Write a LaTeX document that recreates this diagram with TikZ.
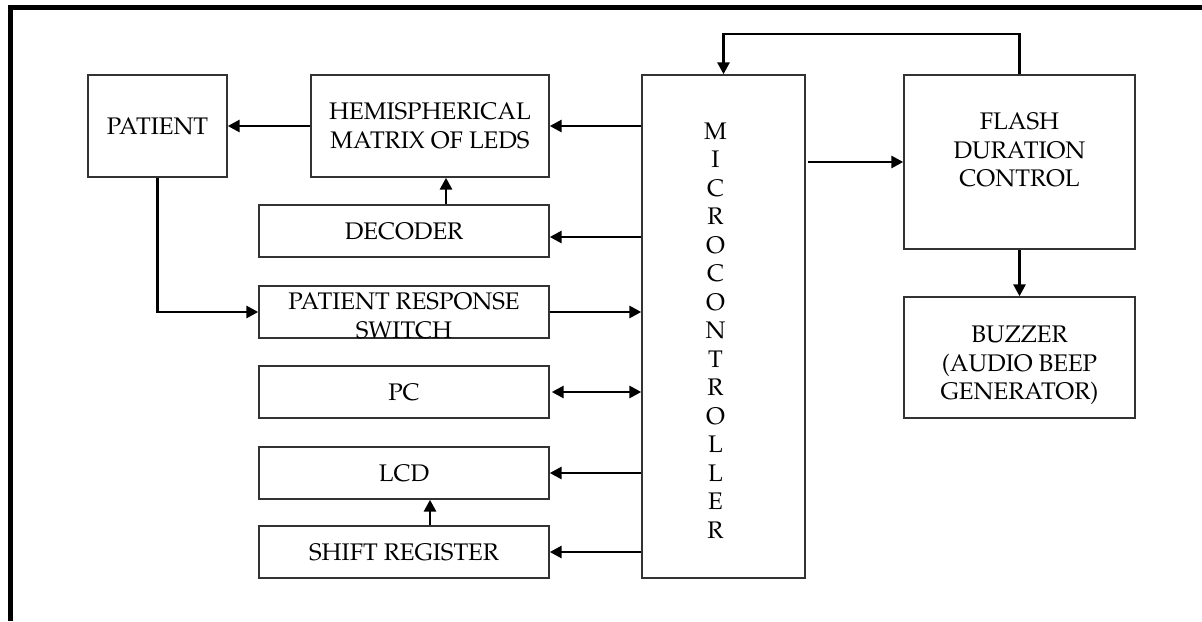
\documentclass[tikz,border=0pt]{standalone}
\usepackage[T1]{fontenc}
\usepackage{mathpazo}
\usetikzlibrary{arrows.meta,calc}

\tikzset{
  blk/.style={draw=black!80, line width=0.7pt, inner sep=0pt, align=center,
              font=\fontsize{12}{14.25}\selectfont},
  arr/.style={line width=1.4pt, -{Triangle[length=6pt,width=6pt]}},
  dblarr/.style={line width=1.4pt, {Triangle[length=6pt,width=6pt]}-{Triangle[length=6pt,width=6pt]}},
  frameline/.style={line width=2.5pt, line join=miter},
}

\begin{document}
\begin{tikzpicture}[x=0.5pt,y=-0.5pt]
\useasboundingbox (0,0) rectangle (1202,621);

% partial outer frame
\draw[frameline] (10.5,621) -- (10.5,7.5) -- (1202,7.5);

% blocks (sizes in px of the drawing grid)
\node[blk, minimum width=139*0.5pt, minimum height=102*0.5pt] (patient) at (157.5,126) {PATIENT};
\node[blk, minimum width=238*0.5pt, minimum height=102*0.5pt] (hemi) at (430,126) {HEMISPHERICAL\\MATRIX OF LEDS};
\node[blk, minimum width=290*0.5pt, minimum height=52*0.5pt] (decoder) at (404,231) {DECODER};
\node[blk, minimum width=290*0.5pt, minimum height=52*0.5pt,
      label={[font=\fontsize{12}{14.25}\selectfont, align=center, yshift=-2pt]center:PATIENT RESPONSE\\SWITCH}] (prs) at (404,312) {};
\node[blk, minimum width=290*0.5pt, minimum height=52*0.5pt] (pc) at (404,392) {PC};
\node[blk, minimum width=290*0.5pt, minimum height=52*0.5pt] (lcd) at (404,473) {LCD};
\node[blk, minimum width=290*0.5pt, minimum height=52*0.5pt] (shift) at (404,552) {\raisebox{-1pt}{SHIFT REGISTER}};
\node[blk, minimum width=163*0.5pt, minimum height=503*0.5pt,
      label={[font=\fontsize{12}{14.25}\selectfont, align=center, xshift=-4pt, yshift=-2pt]center:M\\I\\C\\R\\O\\C\\O\\N\\T\\R\\O\\L\\L\\E\\R}] (micro) at (723.5,326.5) {};
\node[blk, minimum width=231*0.5pt, minimum height=174*0.5pt,
      label={[font=\fontsize{12}{14.25}\selectfont, align=center, yshift=6pt]center:FLASH\\DURATION\\CONTROL}] (flash) at (1019.5,162) {};
\node[blk, minimum width=231*0.5pt, minimum height=121*0.5pt,
      label={[font=\fontsize{12}{14.25}\selectfont, align=center, yshift=-4pt]center:BUZZER\\(AUDIO BEEP\\GENERATOR)}] (buzzer) at (1019.5,357.5) {};

% connectors
\draw[arr] (hemi.west) -- (patient.east);
\draw[arr] (micro.west |- hemi.east) -- (hemi.east);
\draw[arr] ($(micro.west |- decoder.east)+(0,6)$) -- ($(decoder.east)+(0,6)$);
\draw[arr] (decoder.north -| 446,0) -- (hemi.south -| 446,0);
\draw[arr] (patient.south) |- (prs.west);
\draw[arr] (prs.east) -- (micro.west |- prs.east);
\draw[dblarr] ($(pc.east)+(2,0)$) -- (micro.west |- pc.east);
\draw[arr] (micro.west |- lcd.east) -- (lcd.east);
\draw[arr] (micro.west |- shift.east) -- (shift.east);
\draw[arr] (shift.north -| 430,0) -- (lcd.south -| 430,0);
\draw[arr] ($(micro.east |- flash.west)+(2,0)$) -- (flash.west);
\coordinate (fbtop) at (0,34);
\draw[arr] (flash.north) |- (fbtop -| micro.north) -- (micro.north);
\draw[arr] (flash.south) -- (buzzer.north);
\end{tikzpicture}
\end{document}
